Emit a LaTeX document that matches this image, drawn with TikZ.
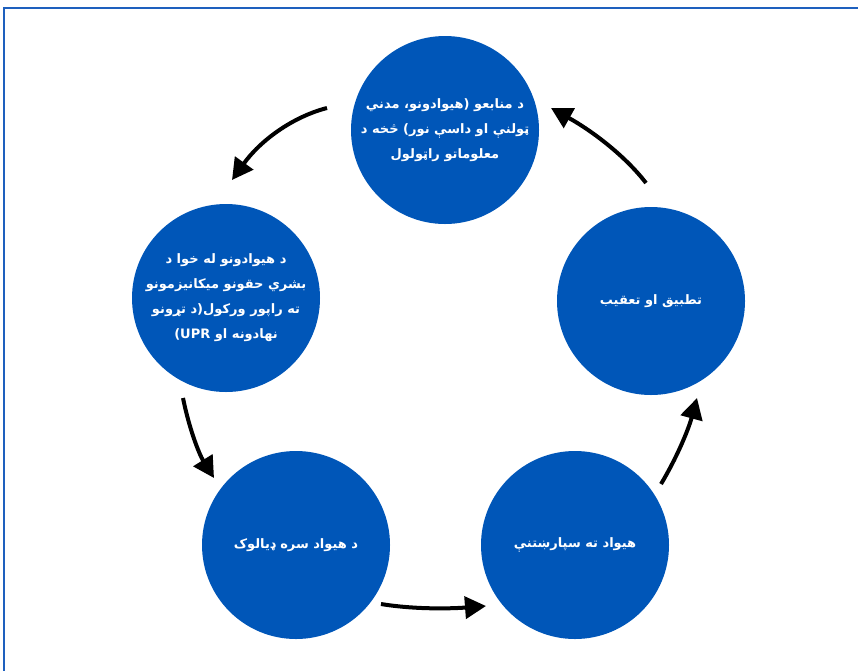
\documentclass[tikz,border=0pt]{standalone}
\usepackage{fontspec}
\newfontfamily\pashtofont[Script=Arabic]{DejaVu Sans}
\TeXXeTstate=1
\usetikzlibrary{arrows.meta}
\definecolor{stageblue}{RGB}{0,86,184}
\definecolor{frameblue}{RGB}{30,96,190}

\begin{document}
\begin{tikzpicture}[x = 1pt, y = -1pt,
                    stage/.style = {circle, fill = stageblue, minimum size = 188pt, inner sep = 0pt,
                                    text = white, align = center,
                                    font = \pashtofont\bfseries\fontsize{13}{25}\selectfont},
                    flow/.style = {line width = 4pt, -{Triangle[length = 21pt, width = 22pt]}}]
  \useasboundingbox (0, 0) rectangle (858, 670);
  \begin{scope}
    \clip (0, 0) rectangle (858, 670);
    \draw [frameblue, line width = 2pt] (4, 8) rectangle (900, 720);
  \end{scope}

  % the five stages
  \node [stage] (collect) at (445, 130)
    {\beginR د منابعو (هیوادونو، مدني\endR\\
     \beginR ټولنې او داسې نور)  څخه د\endR\\
     \beginR معلوماتو راټولول\endR};
  \node [stage] (report) at (226, 298)
    {\beginR د هیوادونو له خوا د\endR\\
     \beginR بشري حقونو میکانیزمونو\endR\\
     \beginR ته راپور ورکول(د تړونو\endR\\
     \beginR نهادونه او \beginL(UPR\endL\endR};
  \node [stage] (dialogue) at (296, 545)
    {\beginR د هیواد سره ډیالوک\endR};
  \node [stage] (recommend) at (575, 545)
    {\beginR هیواد ته سپارښتنې\endR};
  \node [stage] (followup) at (651, 301)
    {\beginR تطبیق او تعقیب\endR};

  % arrows between the stages
  \coordinate (c1s) at (327, 108);  \coordinate (c1e) at (232, 180);
  \coordinate (c2s) at (183, 398);  \coordinate (c2e) at (214, 478);
  \coordinate (c3s) at (381, 604);  \coordinate (c3e) at (486, 606);
  \coordinate (c4s) at (661, 484);  \coordinate (c4e) at (697, 398);
  \coordinate (c5s) at (646, 183);  \coordinate (c5e) at (551, 108);
  \draw [flow] (c1s) .. controls (292, 117) and (260, 141) .. (c1e);
  \draw [flow] (c2s) .. controls (189, 428) and (199, 454) .. (c2e);
  \draw [flow] (c3s) .. controls (411, 609) and (446, 609) .. (c3e);
  \draw [flow] (c4s) .. controls (676, 459) and (688, 431) .. (c4e);
  \draw [flow] (c5s) .. controls (626, 157) and (594, 132) .. (c5e);
\end{tikzpicture}
\end{document}
